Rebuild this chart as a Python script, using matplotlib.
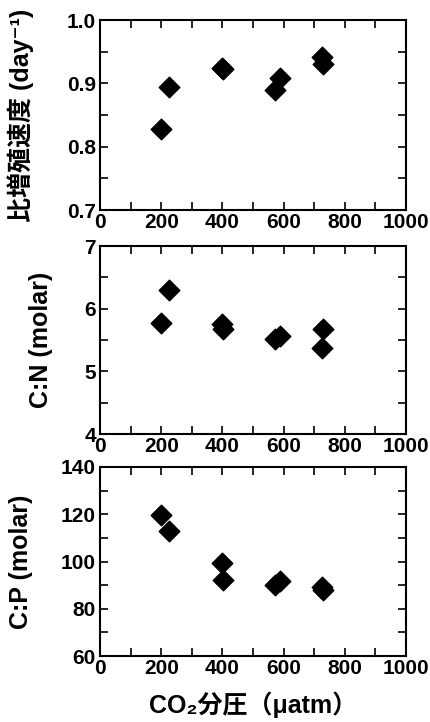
import matplotlib
matplotlib.use("Agg")
import matplotlib.pyplot as plt
from matplotlib.ticker import MultipleLocator

plt.rcParams['font.family'] = ['Liberation Sans', 'Noto Sans CJK JP', 'DejaVu Sans']
plt.rcParams['font.weight'] = 'bold'

co2_growth = [200, 225, 400, 403, 572, 588, 725, 728]
growth_rate = [0.828, 0.895, 0.925, 0.923, 0.890, 0.908, 0.942, 0.930]

co2_cn = [200, 225, 400, 401, 572, 588, 728, 725]
cn_ratio = [5.77, 6.30, 5.75, 5.67, 5.52, 5.56, 5.67, 5.37]

co2_cp = [200, 225, 400, 401, 572, 588, 725, 728]
cp_ratio = [119.5, 113.0, 99.5, 92.0, 90.2, 91.8, 89.0, 88.0]

xlabel = 'CO₂分圧（μatm）'
ylabels = ['比増殖速度 (day⁻¹)', 'C:N (molar)', 'C:P (molar)']

W, H = 430, 722
fig = plt.figure(figsize=(W/100, H/100), dpi=100)

left, right = 100, 406
panels = [
    (20, 210, co2_growth, growth_rate, (0.7, 1.0), 0.1, 0.05, '{:.1f}', -0.215),
    (246, 434, co2_cn, cn_ratio, (4, 7), 1, 0.5, '{:.0f}', -0.155),
    (467, 656, co2_cp, cp_ratio, (60, 140), 20, 10, '{:.0f}', -0.22),
]

for i, (top, bot, xs, ys, ylim, maj, mnr, fmt, lx) in enumerate(panels):
    ax = fig.add_axes([left/W, 1 - bot/H, (right-left)/W, (bot-top)/H])
    ax.scatter(xs, ys, marker='D', s=110, color='black', zorder=3)
    ax.set_xlim(0, 1000)
    ax.set_ylim(*ylim)
    ax.xaxis.set_major_locator(MultipleLocator(200))
    ax.xaxis.set_minor_locator(MultipleLocator(100))
    ax.yaxis.set_major_locator(MultipleLocator(maj))
    ax.yaxis.set_minor_locator(MultipleLocator(mnr))
    yt = [ylim[0] + k*maj for k in range(int(round((ylim[1]-ylim[0])/maj)) + 1)]
    ax.set_yticks(yt)
    ax.set_yticklabels([fmt.format(v) for v in yt])
    ax.tick_params(which='both', direction='in', top=True, right=True, width=1.2)
    ax.tick_params(which='major', length=6, labelsize=15)
    ax.tick_params(axis='y', which='major', pad=3)
    ax.tick_params(axis='x', which='major', pad=2)
    ax.tick_params(which='minor', length=6)
    for lab in ax.get_xticklabels() + ax.get_yticklabels():
        lab.set_fontweight('bold')
    for s in ax.spines.values():
        s.set_linewidth(1.5)
    ax.set_ylabel(ylabels[i], fontsize=18, fontweight='bold')
    ax.yaxis.set_label_coords(lx, 0.5)
    if i == 2:
        ax.set_xlabel(xlabel, fontsize=18, fontweight='bold', labelpad=10)

fig.savefig('out.png', dpi=100)
